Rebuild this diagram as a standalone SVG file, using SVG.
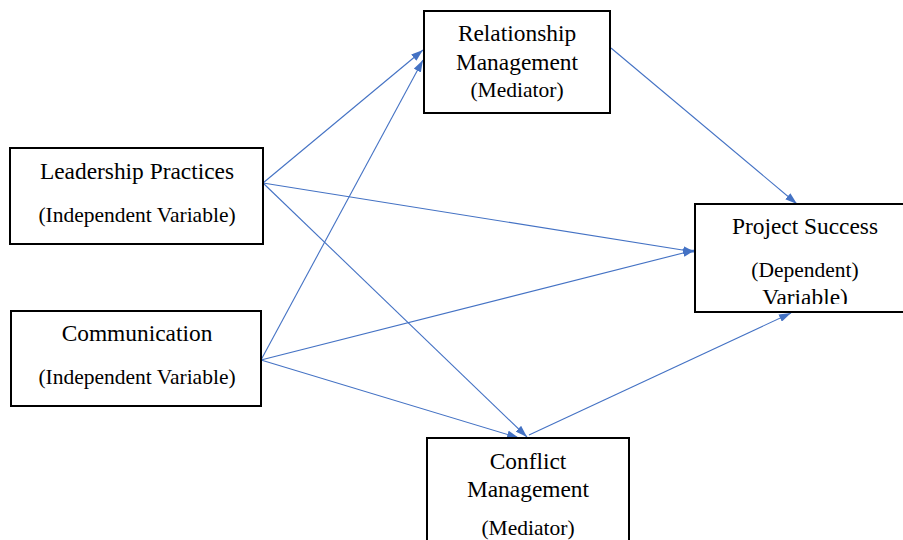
<svg xmlns="http://www.w3.org/2000/svg" width="903" height="540" viewBox="0 0 903 540">
<style>
.box{fill:#fff;stroke:#000;stroke-width:2}
.t{font-family:'Liberation Serif','Times New Roman','DejaVu Serif',serif;fill:#000;text-anchor:middle}
.big{font-size:23.4px}
.sm{font-size:21.5px}
.c{stroke:#4472C4;stroke-width:1.1;fill:none;marker-end:url(#ah)}
</style>
<defs>
<marker id="ah" viewBox="0 0 12 8" refX="12" refY="4" markerWidth="12" markerHeight="8" markerUnits="userSpaceOnUse" orient="auto">
<path d="M0,0 L12,4 L0,8 z" fill="#4472C4"/>
</marker>
<clipPath id="psclip"><rect x="696" y="205" width="210" height="99"/></clipPath>
</defs>
<rect width="903" height="540" fill="#fff"/>
<g id="connectors">
<line class="c" x1="263" y1="183" x2="423" y2="50"/>
<line class="c" x1="261" y1="360" x2="423" y2="60"/>
<line class="c" x1="263" y1="183" x2="695" y2="252"/>
<line class="c" x1="263" y1="183" x2="527" y2="437"/>
<line class="c" x1="261" y1="360" x2="695" y2="250"/>
<line class="c" x1="261" y1="360" x2="519" y2="438"/>
<line class="c" x1="611" y1="48" x2="797" y2="204"/>
<line class="c" x1="529" y1="435" x2="791" y2="313"/>
</g>
<g id="leadership">
<rect class="box" x="10" y="148" width="253" height="96"/>
<text class="t big" x="137" y="179">Leadership Practices</text>
<text class="t sm" x="137" y="222">(Independent Variable)</text>
</g>
<g id="communication">
<rect class="box" x="11" y="311" width="250" height="95"/>
<text class="t big" x="137" y="341">Communication</text>
<text class="t sm" x="137" y="384">(Independent Variable)</text>
</g>
<g id="relationship">
<rect class="box" x="424" y="11" width="186" height="102"/>
<text class="t big" x="517" y="41">Relationship</text>
<text class="t big" x="517" y="70">Management</text>
<text class="t sm" x="517" y="97">(Mediator)</text>
</g>
<g id="projectsuccess">
<rect class="box" x="695" y="204" width="212" height="108"/>
<g clip-path="url(#psclip)">
<text class="t big" x="805" y="234">Project Success</text>
<text class="t sm" x="805" y="277">(Dependent)</text>
<text class="t big" x="805" y="305">Variable)</text>
</g>
</g>
<g id="conflict">
<rect class="box" x="427" y="438" width="202" height="106"/>
<text class="t big" x="528" y="469">Conflict</text>
<text class="t big" x="528" y="497">Management</text>
<text class="t sm" x="528" y="535">(Mediator)</text>
</g>
</svg>
